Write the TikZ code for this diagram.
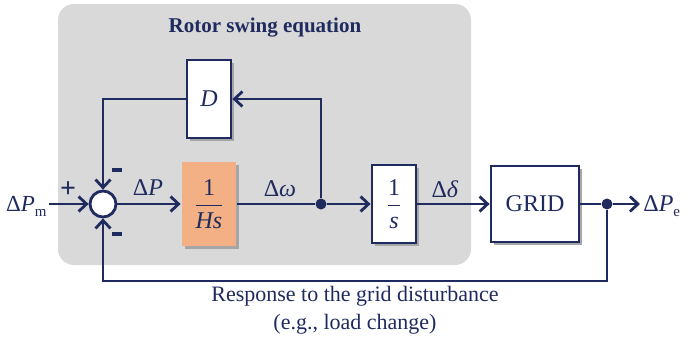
\documentclass[tikz,border=0pt]{standalone}
\usepackage{fontspec}
\setmainfont{Liberation Serif}
\usepackage{amsmath}
\usetikzlibrary{arrows.meta,shadows,positioning}
\definecolor{navy}{HTML}{1F2A5E}
\definecolor{swingbg}{HTML}{D9D9D9}
\definecolor{hsorange}{HTML}{F2B084}

\begin{document}
\begin{tikzpicture}[x=0.5pt,y=-0.5pt,>={Straight Barb[length=4pt,width=7.5pt]},
  line/.style = {draw=navy, line width=1.4pt},
  block/.style = {draw=navy, line width=1.4pt, fill=white, text=navy, inner sep=0pt,
    drop shadow={shadow xshift=1.6pt, shadow yshift=-1.6pt, fill=black!35, opacity=1}},
  point/.style = {circle, fill=navy, inner sep=0pt, minimum size=5.5pt},
  sign/.style = {text=navy, font=\bfseries\fontsize{14}{14}\selectfont},
  lbl/.style = {text=navy, font=\fontsize{11}{13}\selectfont},
  big/.style = {text=navy, font=\fontsize{12}{14}\selectfont},]
\useasboundingbox (0,0) rectangle (686,337);
\fill[swingbg, rounded corners=8pt] (58,4) rectangle (471,265);
\node (title) at (265,28)[text=navy, font=\bfseries\fontsize{10.5}{12}\selectfont] {Rotor swing equation};
% blocks
\node (sum) at (103,204)[circle, draw=navy, line width=1.4pt, fill=white, minimum size=13pt, inner sep=0pt] {};
\node (D) at (209,99)[block, big, minimum width=22pt, minimum height=39pt] {\textit{D}};
\node (Hs) at (209,204)[block, big, draw=none, fill=hsorange, minimum width=27pt, minimum height=42pt] {$\dfrac{\text{1}}{\textit{Hs}}$};
\node (int) at (394,204)[block, big, minimum width=22pt, minimum height=39pt] {$\dfrac{\text{1}}{\textit{s}}$};
\node (GRID) at (535,204)[block, big, minimum width=44pt, minimum height=38pt] {GRID};
\node (w) at (321,204)[point] {};
\node (Pgrid) at (607,204)[point] {};
\coordinate (gridfb) at (607,281);
% labels
\node (Pm) at (49,211)[font=\fontsize{11.5}{14}\selectfont, text=navy, inner sep=1pt, anchor=base east] {Δ\textit{P}\raisebox{-0.5ex}{\fontsize{7.5}{8}\selectfont m}};
\node (Pe) at (640,211)[big, inner sep=1.5pt, anchor=base west] {Δ\textit{P}\raisebox{-0.5ex}{\fontsize{7.5}{8}\selectfont e}};
\node (dP) at (148,188)[big] {Δ\textit{P}};
\node (dw) at (280,189)[big] {Δ\textit{ω}};
\node (dd) at (445,189)[big] {Δ\textit{δ}};
\node (plus) at (68,190)[sign] {+};
\node (mtop) at (117,170)[text=navy] {\rule{5pt}{1.8pt}};
\node (mbot) at (117,234)[text=navy] {\rule{5pt}{1.8pt}};
\node (resp) at (355,310)[lbl, align=center] {Response to the grid disturbance\\[1pt](e.g., load change)};
% connectors
\draw[line,->] (Pm.east |- sum) -- (sum.west);
\draw[line,->] (sum.east) -- (Hs.west);
\draw[line] (Hs.east) -- (w);
\draw[line,->] (w) -- (int.west);
\draw[line,->] (int.east) -- (GRID.west);
\draw[line] (GRID.east) -- (Pgrid);
\draw[line,->] (Pgrid) -- (Pe.west |- Pgrid);
\draw[line,->] (w) |- (D.east);
\draw[line,->] (D.west) -| (sum.north);
\draw[line,->] (Pgrid) -- (gridfb) -| (sum.south);
\end{tikzpicture}
\end{document}
